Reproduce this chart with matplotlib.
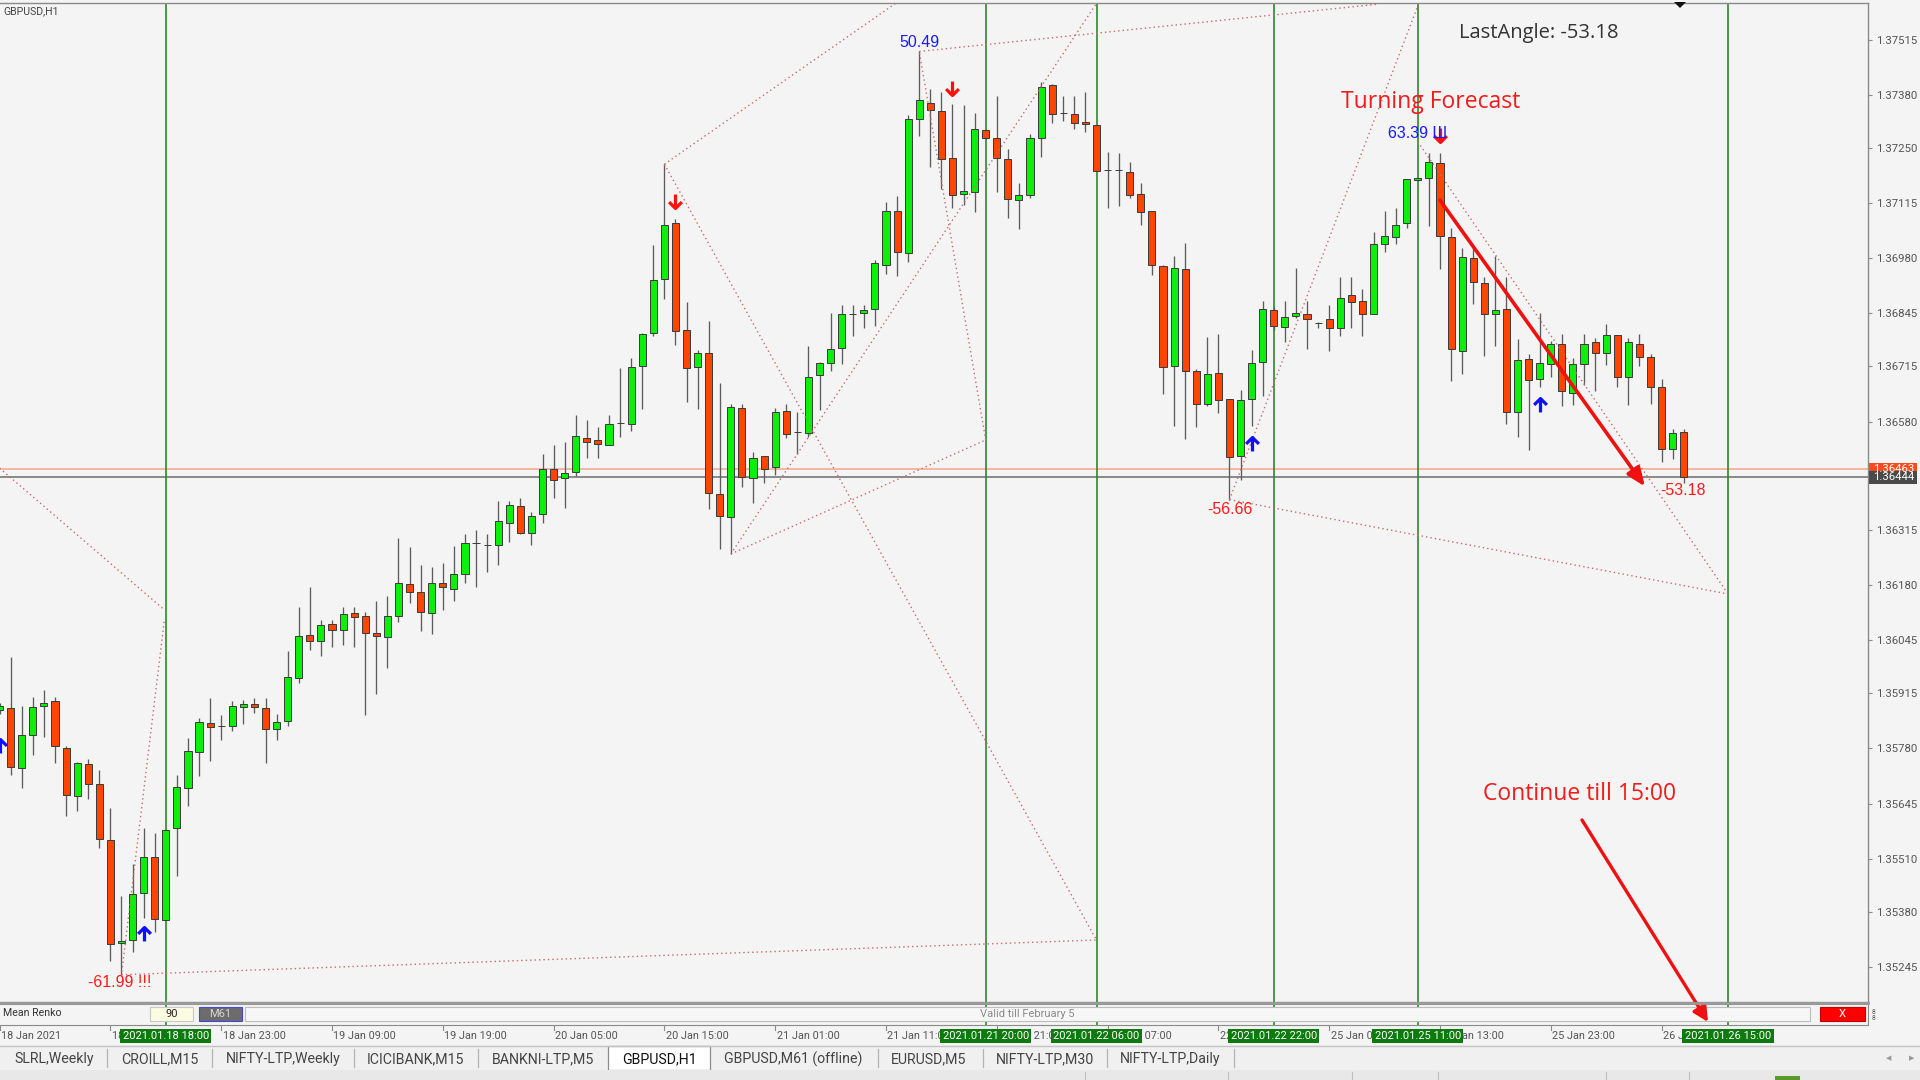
import matplotlib
matplotlib.use("Agg")
import matplotlib.pyplot as plt
import matplotlib.transforms as mtransforms
import numpy as np
from matplotlib.lines import Line2D
from matplotlib.patches import FancyArrowPatch, Polygon, Rectangle
from matplotlib.path import Path

# ---------------------------------------------------------------------------
# GBPUSD H1 candles. Bar 0 = 18 Jan 2021 03:00.
# Prices are in points (1e-5).
# ---------------------------------------------------------------------------
OPEN = [
    135873, 135880, 135733, 135813, 135884, 135895, 135782, 135663, 135743, 135692,
    135555, 135303, 135311, 135427, 135513, 135361, 135584, 135682, 135772, 135841,
    135836, 135835, 135882, 135889, 135879, 135827, 135848, 135952, 136058, 136042,
    136085, 136071, 136111, 136104, 136062, 136052, 136103, 136182, 136164, 136112,
    136186, 136170, 136208, 136282, 136279, 136279, 136332, 136373, 136308, 136353,
    136463, 136442, 136457, 136541, 136535, 136522, 136576, 136574, 136716, 136797,
    136928, 137065, 136804, 136714, 136749, 136403, 136347, 136614, 136443, 136496,
    136469, 136605, 136555, 136553, 136694, 136724, 136759, 136844, 136845, 136855,
    136963, 137095, 136993, 137321, 137361, 137340, 137225, 137136, 137143, 137293,
    137275, 137223, 137122, 137134, 137273, 137404, 137335, 137333, 137313, 137307,
    137195, 137195, 137191, 137136, 137095, 136961, 136715, 136954, 136704, 136622,
    136699, 136635, 136496, 136635, 136726, 136853, 136812, 136838, 136843, 136822,
    136830, 136808, 136890, 136874, 136843, 137015, 137033, 137065, 137172, 137177,
    137214, 137032, 136754, 136981, 136920, 136843, 136855, 136603, 136733, 136685,
    136722, 136771, 136651, 136722, 136775, 136749, 136793, 136689, 136771, 136738,
    136664, 136513, 136554,
]
HIGH = [
    135891, 136004, 135885, 135907, 135923, 135905, 135785, 135746, 135755, 135726,
    135633, 135418, 135496, 135585, 135574, 135583, 135715, 135805, 135854, 135903,
    135861, 135896, 135898, 135903, 135903, 135864, 136019, 136125, 136175, 136094,
    136094, 136125, 136125, 136114, 136140, 136153, 136294, 136274, 136228, 136225,
    136233, 136275, 136304, 136314, 136304, 136385, 136385, 136394, 136359, 136500,
    136522, 136529, 136596, 136585, 136566, 136596, 136710, 136735, 136797, 137012,
    137210, 137075, 136873, 136755, 136825, 136675, 136624, 136622, 136505, 136496,
    136614, 136624, 136604, 136766, 136726, 136845, 136865, 136865, 136865, 136976,
    137117, 137131, 137331, 137486, 137395, 137386, 137357, 137355, 137335, 137296,
    137376, 137247, 137165, 137284, 137412, 137407, 137376, 137376, 137386, 137307,
    137241, 137237, 137215, 137164, 137095, 136964, 136986, 137017, 136708, 136787,
    136795, 136635, 136658, 136756, 136876, 136860, 136875, 136955, 136875, 136824,
    136865, 136935, 136935, 136904, 137045, 137095, 137104, 137175, 137177, 137237,
    137237, 137055, 137006, 137004, 136935, 136986, 136935, 136782, 136745, 136845,
    136778, 136794, 136736, 136794, 136784, 136819, 136793, 136784, 136794, 136745,
    136684, 136563, 136563,
]
LOW = [
    135864, 135716, 135682, 135764, 135808, 135745, 135615, 135627, 135656, 135536,
    135260, 135226, 135282, 135366, 135330, 135359, 135468, 135638, 135713, 135749,
    135801, 135823, 135840, 135866, 135745, 135801, 135836, 135941, 136022, 136006,
    136029, 136032, 136028, 135862, 135914, 135976, 136089, 136136, 136067, 136059,
    136120, 136140, 136184, 136176, 136212, 136229, 136286, 136304, 136279, 136331,
    136392, 136369, 136447, 136492, 136490, 136522, 136543, 136558, 136610, 136789,
    136879, 136767, 136629, 136612, 136365, 136267, 136256, 136419, 136380, 136429,
    136449, 136539, 136500, 136543, 136608, 136704, 136720, 136790, 136810, 136815,
    136942, 136937, 136970, 137278, 137203, 137149, 137104, 137111, 137094, 137272,
    137143, 137078, 137052, 137127, 137227, 137311, 137315, 137296, 137290, 137193,
    137102, 137107, 137127, 137062, 136938, 136647, 136570, 136538, 136566, 136617,
    136601, 136389, 136436, 136568, 136642, 136805, 136774, 136833, 136757, 136810,
    136753, 136790, 136808, 136790, 136843, 136996, 137015, 137055, 137171, 137059,
    136953, 136680, 136696, 136869, 136741, 136765, 136573, 136543, 136510, 136664,
    136690, 136618, 136620, 136669, 136656, 136718, 136664, 136620, 136717, 136622,
    136480, 136488, 136430,
]
CLOSE = [
    135884, 135734, 135812, 135882, 135892, 135785, 135665, 135744, 135694, 135558,
    135302, 135308, 135424, 135515, 135363, 135581, 135685, 135773, 135845, 135833,
    135835, 135884, 135889, 135882, 135827, 135845, 135956, 136054, 136044, 136083,
    136071, 136110, 136101, 136062, 136054, 136104, 136186, 136163, 136114, 136186,
    136176, 136206, 136282, 136283, 136279, 136336, 136375, 136308, 136349, 136463,
    136438, 136455, 136545, 136531, 136524, 136573, 136576, 136713, 136795, 136926,
    137062, 136802, 136712, 136747, 136404, 136349, 136615, 136445, 136492, 136465,
    136603, 136549, 136555, 136690, 136724, 136757, 136843, 136844, 136854, 136967,
    137095, 136995, 137320, 137366, 137343, 137223, 137134, 137145, 137296, 137274,
    137225, 137126, 137134, 137275, 137400, 137333, 137335, 137311, 137308, 137193,
    137195, 137195, 137134, 137094, 136963, 136713, 136957, 136705, 136624, 136697,
    136633, 136494, 136633, 136724, 136855, 136815, 136835, 136845, 136830, 136822,
    136808, 136882, 136872, 136844, 137014, 137035, 137062, 137175, 137176, 137216,
    137034, 136758, 136982, 136921, 136844, 136853, 136604, 136731, 136683, 136724,
    136769, 136655, 136722, 136771, 136749, 136792, 136689, 136774, 136737, 136664,
    136514, 136553, 136445,
]
POINT = 1e-5

BID = 1.36444
ASK = 1.36463

PRICE_TICKS = [1.37515, 1.37380, 1.37250, 1.37115, 1.36980, 1.36845, 1.36715,
               1.36580, 1.36315, 1.36180, 1.36045, 1.35915, 1.35780, 1.35645,
               1.35510, 1.35380, 1.35245]

# time axis labels every 10 bars
TIME_BARS = [0, 10, 20, 30, 40, 50, 60, 70, 80, 90, 100, 110, 120, 130, 140, 150]
TIME_LABELS = ["18 Jan 2021", "18 Jan 13:00", "18 Jan 23:00", "19 Jan 09:00",
               "19 Jan 19:00", "20 Jan 05:00", "20 Jan 15:00", "21 Jan 01:00",
               "21 Jan 11:00", "21 Jan 21:00", "22 Jan 07:00", "22 Jan 17:00",
               "25 Jan 03:00", "25 Jan 13:00", "25 Jan 23:00", "26 Jan 09:00"]

# green vertical time markers
MARK_BARS = [15, 89, 99, 115, 128, 156]
MARK_LABELS = ["2021.01.18 18:00", "2021.01.21 20:00", "2021.01.22 06:00",
               "2021.01.22 22:00", "2021.01.25 11:00", "2021.01.26 15:00"]

# dotted zigzag / fan segments: (bar, price) -> (bar, price)
ZIGZAG = [
    ((0.0, 1.36466), (14.75, 1.36122)),
    ((14.85, 1.36090), (11.0, 1.35226)),
    ((11.0, 1.35226), (99.0, 1.35311)),
    ((60.0, 1.37210), (99.0, 1.35311)),
    ((60.0, 1.37210), (81.3, 1.37612)),
    ((66.0, 1.36256), (99.2, 1.37612)),
    ((66.0, 1.36256), (89.0, 1.36535)),
    ((89.0, 1.36535), (83.0, 1.37486)),
    ((83.0, 1.37486), (124.5, 1.37602)),
    ((111.0, 1.36389), (128.2, 1.37612)),
    ((111.0, 1.36389), (156.0, 1.36158)),
    ((128.0, 1.37265), (156.0, 1.36158)),
]

SELL_BARS = [61, 86, 130]
SELL_PRICES = [1.37120, 1.37396, 1.37282]
BUY_BARS = [0, 13, 113, 139]
BUY_PRICES = [1.35787, 1.35325, 1.36524, 1.36621]

# pivot labels: (bar, price, text, colour)
PIVOT_LABELS = [
    (83.0, 1.37507, "50.49", "#1a1aff"),
    (128.0, 1.37286, "63.39 Ш", "#1a1aff"),
    (111.0, 1.36365, "-56.66", "#ff1a1a"),
    (10.87, 1.35206, "-61.99 !!!", "#ff1a1a"),
    (151.96, 1.36411, "-53.18", "#ff1a1a"),
]

# hand-drawn forecast arrow on the chart
TREND_FROM = (130.0, 1.37122)
TREND_TO = (148.5, 1.36421)

TABS = ["SLRL,Weekly", "CROILL,M15", "NIFTY-LTP,Weekly", "ICICIBANK,M15",
        "BANKNI-LTP,M5", "GBPUSD,H1", "GBPUSD,M61 (offline)", "EURUSD,M5",
        "NIFTY-LTP,M30", "NIFTY-LTP,Daily"]
TAB_CENTERS = [54, 160, 283, 416, 543, 659, 793, 929, 1045, 1170]
TAB_SEPS = [107, 212, 354, 478, 878, 983, 1107, 1234]
ACTIVE_TAB = 5

# ---------------------------------------------------------------------------
W, H = 1920, 1080
BG = "#f4f4f4"
BULL = "#0af00a"
BEAR = "#ff4500"
GREEN_LINE = "#2a8a2a"
DOT = "#c86a6a"

plt.rcParams["font.family"] = ["Roboto", "DejaVu Sans"]

fig = plt.figure(figsize=(W / 100, H / 100), dpi=100)
fig.patch.set_facecolor(BG)


def fx(px):
    return px / W


def fy(py):
    return 1 - py / H


def box(x0, y0, x1, y1, **kw):
    fig.add_artist(Rectangle((fx(x0), fy(y1)), (x1 - x0) / W, (y1 - y0) / H,
                             transform=fig.transFigure, **kw))


def seg(x0, y0, x1, y1, **kw):
    fig.add_artist(Line2D([fx(x0), fx(x1)], [fy(y0), fy(y1)],
                          transform=fig.transFigure, **kw))


# ---------------------------------------------------------------------------
# main chart
# ---------------------------------------------------------------------------
ax = fig.add_axes([0, fy(1002), fx(1868), (1002 - 3) / H])
ax.set_facecolor(BG)
ax.set_xlim(0.036, 168.63)
ax.set_ylim(1.351593, 1.376046)

o = np.array(OPEN) * POINT
h = np.array(HIGH) * POINT
l = np.array(LOW) * POINT
c = np.array(CLOSE) * POINT
x = np.arange(len(o))
up = c > o

ax.axhline(ASK, color="#f5a68a", lw=1.1, zorder=1)
ax.axhline(BID, color="#6c6c6c", lw=1.1, zorder=1)
for b in MARK_BARS:
    ax.axvline(b, color=GREEN_LINE, lw=1.2, zorder=2)

ax.vlines(x, l, h, color="#5c5c5c", lw=0.95, zorder=3)
ax.bar(x[up], (c - o)[up], bottom=o[up], width=0.64, color=BULL,
       edgecolor="#3a3a3a", lw=0.7, zorder=4)
ax.bar(x[~up], (o - c)[~up], bottom=c[~up], width=0.64, color=BEAR,
       edgecolor="#3a3a3a", lw=0.7, zorder=4)

for (b0, p0), (b1, p1) in ZIGZAG:
    ax.plot([b0, b1], [p0, p1], color=DOT, lw=1.0, ls=(0, (1, 2.2)), zorder=5)

UP = Path([(-0.55, 0.05), (0, 0.6), (0.55, 0.05), (0, 0.6), (0, -0.6)],
          [Path.MOVETO, Path.LINETO, Path.LINETO, Path.MOVETO, Path.LINETO])
DOWN = Path([(-0.55, -0.05), (0, -0.6), (0.55, -0.05), (0, -0.6), (0, 0.6)],
            [Path.MOVETO, Path.LINETO, Path.LINETO, Path.MOVETO, Path.LINETO])
ax.plot(BUY_BARS, BUY_PRICES, ls="none", marker=UP, ms=10, mew=2.3,
        mec="#1010ff", mfc="none", zorder=6)
ax.plot(SELL_BARS, SELL_PRICES, ls="none", marker=DOWN, ms=10, mew=2.3,
        mec="#ff1010", mfc="none", zorder=6)

for b, p, txt, col in PIVOT_LABELS:
    ax.text(b, p, txt, ha="center", va="center", color=col, fontsize=11.5,
            family="Liberation Sans", zorder=7)

ax.annotate("", xy=TREND_TO, xytext=TREND_FROM,
            arrowprops=dict(arrowstyle="-|>,head_length=1.1,head_width=0.45",
                            color="#f01010", lw=2.6, shrinkA=0, shrinkB=0),
            zorder=8)

ax.set_xticks([])
ax.yaxis.tick_right()
ax.set_yticks(PRICE_TICKS)
ax.set_yticklabels([f"{t:.5f}" for t in PRICE_TICKS])
ax.tick_params(axis="y", length=3, width=0.8, color="#8a8a8a", labelsize=8.2,
               labelcolor="#555555", pad=3)
ax.spines["left"].set_visible(False)
for s in ("top", "right", "bottom"):
    ax.spines[s].set_color("#8a8a8a")
    ax.spines[s].set_linewidth(1.0)

# bid / ask boxes on the price scale
ytr = mtransforms.blended_transform_factory(fig.transFigure, ax.transData)
px_price = (1.376046 - 1.351593) / 999
for price, fc in ((ASK, "#ff4a1c"), (BID, "#4a4a4a")):
    ax.add_artist(Rectangle((fx(1869), price - 6.5 * px_price), 48 / W,
                            13 * px_price, transform=ytr, fc=fc, ec="none",
                            clip_on=False, zorder=9))
    ax.text(fx(1873), price, f"{price:.5f}", transform=ytr, ha="left",
            va="center", color="white", fontsize=8.2, clip_on=False, zorder=10)

# ---------------------------------------------------------------------------
# indicator sub-window ("Mean Renko")
# ---------------------------------------------------------------------------
ax_sub = fig.add_axes([0, fy(1025), fx(1868), (1025 - 1004) / H], sharex=ax)
ax_sub.set_facecolor(BG)
ax_sub.set_yticks([])
ax_sub.tick_params(axis="x", bottom=False, labelbottom=False)
for s in ax_sub.spines.values():
    s.set_color("#8a8a8a")
ax_sub.spines["left"].set_visible(False)
for b in MARK_BARS:
    ax_sub.axvline(b, color=GREEN_LINE, lw=1.2, zorder=5)

seg(0, 1003, 1868, 1003, color="#9a9a9a", lw=2.0)
fig.text(fx(3), fy(1013), "Mean Renko", ha="left", va="center", fontsize=7.6,
         color="#333333")
box(150, 1007, 193, 1021, fc="#fbfbe2", ec="#c8c8c8", lw=0.8)
fig.text(fx(171.5), fy(1014), "90", ha="center", va="center", fontsize=8,
         color="#222222")
box(199, 1007, 242, 1021, fc="#6c6c6c", ec="#4646d8", lw=0.8)
fig.text(fx(220.5), fy(1014), "M61", ha="center", va="center", fontsize=8,
         color="#d6d6d6")
box(245, 1007, 1810, 1021, fc="#f7f7f7", ec="#bdbdbd", lw=0.8)
fig.text(fx(1027), fy(1014), "Valid till February 5", ha="center",
         va="center", fontsize=8, color="#8a8a8a")
box(1820, 1007, 1865, 1021, fc="#ff0000", ec="#c00000", lw=0.8)
fig.text(fx(1842.5), fy(1014), "X", ha="center", va="center", fontsize=8,
         color="white")
fig.text(fx(1872), fy(1015), "8\n8", ha="left", va="center", fontsize=4.8,
         color="#555555", linespacing=0.8)

# ---------------------------------------------------------------------------
# time axis
# ---------------------------------------------------------------------------
xtr = mtransforms.blended_transform_factory(ax.transData, fig.transFigure)
for b, lab in zip(TIME_BARS, TIME_LABELS):
    fig.add_artist(Line2D([b, b], [fy(1026), fy(1030)], transform=xtr,
                          color="#8a8a8a", lw=0.8))
    fig.text(b + 0.12, fy(1036), lab, transform=xtr, ha="left", va="center",
             fontsize=7.8, color="#555555")
for b, lab in zip(MARK_BARS, MARK_LABELS):
    fig.text(b, fy(1036), lab, transform=xtr, ha="center", va="center",
             fontsize=8.0, color="white",
             bbox=dict(boxstyle="square,pad=0.22", fc="#0c7a0c", ec="none"))

# ---------------------------------------------------------------------------
# tab bar and status strip
# ---------------------------------------------------------------------------
box(0, 1045, 1920, 1070, fc="#f0f0f0", ec="none")
seg(0, 1045.5, 1920, 1045.5, color="#c4c4c4", lw=1.0)
box(608, 1046, 710, 1070, fc="white", ec="#8c8c8c", lw=0.9)
for sx in TAB_SEPS:
    seg(sx, 1049, sx, 1067, color="#b4b4b4", lw=0.9)
for i, (name, cx) in enumerate(zip(TABS, TAB_CENTERS)):
    fig.text(fx(cx), fy(1059), name, ha="center", va="center", fontsize=10.2,
             color="#111111" if i == ACTIVE_TAB else "#444444")
fig.text(fx(1889), fy(1058), "◀", ha="center", va="center", fontsize=5,
         color="#9a9a9a", family="DejaVu Sans")
fig.text(fx(1912), fy(1058), "▶", ha="center", va="center", fontsize=5,
         color="#9a9a9a", family="DejaVu Sans")
box(0, 1070, 1920, 1080, fc="#e8e8e8", ec="none")
for sx in (1085, 1228, 1352, 1438, 1606, 1689):
    seg(sx, 1072, sx, 1080, color="#c0c0c0", lw=0.8)
box(1775, 1076, 1800, 1080, fc="#5a9a2a", ec="none")

# ---------------------------------------------------------------------------
# overlay text and the second hand-drawn arrow
# ---------------------------------------------------------------------------
fig.text(fx(3), fy(11), "GBPUSD,H1", ha="left", va="center", fontsize=7.6,
         color="#444444")
fig.add_artist(Polygon([(fx(1674), fy(2)), (fx(1686), fy(2)), (fx(1680), fy(8))],
                       closed=True, transform=fig.transFigure, fc="#111111",
                       ec="none"))
fig.text(fx(1539), fy(33), "LastAngle: -53.18", ha="center", va="center",
         fontsize=14.5, color="#333333", family="Open Sans")
fig.text(fx(1431), fy(102), "Turning Forecast", ha="center", va="center",
         fontsize=16.5, color="#f21c1c", family="Open Sans")
fig.text(fx(1580), fy(794), "Continue till 15:00", ha="center", va="center",
         fontsize=16.5, color="#f21c1c", family="Open Sans")
fig.add_artist(FancyArrowPatch((fx(1582), fy(820)), (fx(1708), fy(1022)),
                               transform=fig.transFigure,
                               arrowstyle="-|>,head_length=9,head_width=4.5",
                               color="#f01010", lw=2.4, shrinkA=0, shrinkB=0))

fig.savefig("out.png", dpi=100, facecolor=fig.get_facecolor())
